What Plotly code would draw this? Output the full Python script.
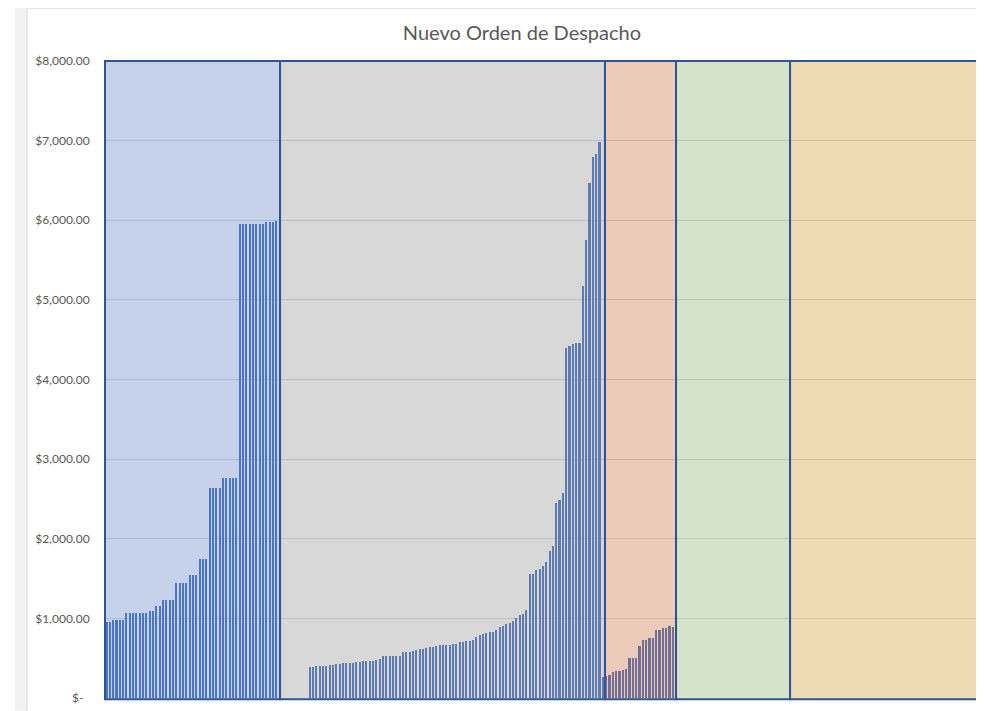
import plotly.graph_objects as go

# Valores por bloque (orden de despacho)
bloque_azul = [
    960, 960, 985, 985, 985, 985,
    1070, 1070, 1070, 1070, 1070, 1070, 1070, 1090, 1090, 1150, 1150,
    1235, 1235, 1235, 1235, 1440, 1440, 1440, 1440, 1540, 1540, 1540,
    1740, 1740, 1740, 2641, 2641, 2641, 2641, 2762, 2762, 2762, 2762, 2762,
    5950, 5950, 5950, 5950, 5950, 5950, 5950, 5950, 5975, 5975, 5975, 5990,
]
huecos_gris = 9
bloque_gris = [
    386, 394, 398, 398, 402, 407, 411, 419, 423, 432, 444, 444, 444, 444,
    448, 456, 461, 461, 465, 465, 473, 485, 523, 527, 527, 527, 527, 527,
    573, 577, 581, 589, 606, 610, 614, 631, 635, 643, 656,
    667, 667, 667, 667, 675, 683, 704, 704, 717, 721, 729, 771, 792, 804,
    812, 825, 833, 854, 896, 900, 929, 942, 967, 1000, 1037, 1054, 1104,
    1563, 1563, 1613, 1625, 1654, 1708, 1850, 1908, 2454, 2488, 2579,
    4396, 4421, 4450, 4458, 4458, 5179, 5746, 6467, 6792, 6833, 6988,
]
bloque_rojo = [
    266, 274, 295, 329, 338, 338, 346, 367, 506, 506, 506, 654, 726, 730,
    759, 759, 852, 857, 873, 882, 907, 890,
]
huecos_final = 91

y_ticks = [0, 1000, 2000, 3000, 4000, 5000, 6000, 7000, 8000]
y_labels = ["$-  ", "$1,000.00", "$2,000.00", "$3,000.00", "$4,000.00",
            "$5,000.00", "$6,000.00", "$7,000.00", "$8,000.00"]

valores = bloque_azul + [None] * huecos_gris + bloque_gris + bloque_rojo + [None] * huecos_final
posiciones = list(range(len(valores)))

TEXT_COLOR = "#595959"
BORDER = "#2F5597"

fig = go.Figure()
fig.add_trace(go.Bar(
    x=posiciones,
    y=valores,
    width=0.5,
    marker=dict(color="#4472C4", line=dict(width=0)),
    hoverinfo="skip",
))

# bloques de color (x en fraccion del area de trazado)
bloques = [
    (0.0, 0.2005, "rgba(89,126,195,0.35)"),
    (0.2005, 0.5727, "rgba(144,144,144,0.35)"),
    (0.5727, 0.6541, "rgba(204,106,61,0.35)"),
    (0.6541, 0.7847, "rgba(132,175,104,0.35)"),
    (0.7847, 1.0, "rgba(206,152,46,0.35)"),
]
shapes = []
for x0, x1, color in bloques:
    shapes.append(dict(
        type="rect", xref="paper", yref="paper",
        x0=x0, x1=x1, y0=-0.002, y1=1.0,
        fillcolor=color, line=dict(color=BORDER, width=2), layer="above",
    ))

# marco del area del grafico
shapes.append(dict(type="rect", xref="paper", yref="paper",
                   x0=-0.103, x1=-0.0893, y0=-0.02, y1=1.1,
                   fillcolor="#F2F2F2", line=dict(width=0), layer="below"))
shapes.append(dict(type="line", xref="paper", yref="paper",
                   x0=-0.0893, x1=-0.0893, y0=-0.02, y1=1.083,
                   line=dict(color="#D9D9D9", width=1)))
shapes.append(dict(type="line", xref="paper", yref="paper",
                   x0=-0.0893, x1=1.01, y0=1.083, y1=1.083,
                   line=dict(color="#D9D9D9", width=1)))

# la pagina tiene 8px de margen, el tamano lo compensa
fig.update_layout(
    width=976,
    height=703,
    title=dict(
        text="Nuevo Orden de Despacho",
        x=0.5266, xanchor="center",
        y=0.9644, yanchor="middle",
        font=dict(family="Lato", size=20, color=TEXT_COLOR),
    ),
    font=dict(family="Lato", size=12, color=TEXT_COLOR),
    paper_bgcolor="white",
    plot_bgcolor="white",
    showlegend=False,
    bargap=0,
    margin=dict(l=97, r=6, t=53, b=10),
    shapes=shapes,
    xaxis=dict(
        range=[-0.5, len(valores) - 0.5],
        showticklabels=False,
        showgrid=False,
        zeroline=False,
        showline=False,
        ticks="",
    ),
    yaxis=dict(
        range=[0, 8000],
        tickvals=y_ticks,
        ticktext=y_labels,
        showgrid=True,
        gridcolor="#D9D9D9",
        gridwidth=1,
        zeroline=False,
        showline=False,
        ticks="outside",
        ticklen=12,
        tickcolor="rgba(0,0,0,0)",
        tickfont=dict(family="Lato", size=12, color=TEXT_COLOR),
    ),
)

fig.write_html("out.html")
